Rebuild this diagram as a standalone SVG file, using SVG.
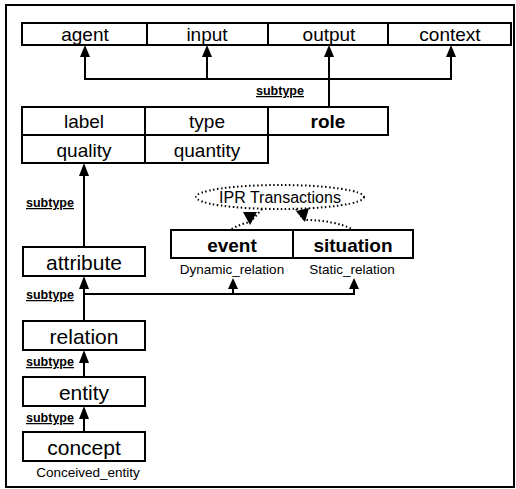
<svg xmlns="http://www.w3.org/2000/svg" width="516" height="489" viewBox="0 0 516 489">
<style>
.box{fill:#fff;stroke:#000;stroke-width:2}
.t{font-family:"Liberation Sans",Arial,sans-serif;font-size:19px;text-anchor:middle;fill:#000}
.L{font-size:21px}
.b{font-weight:bold}
.s{font-family:"Liberation Sans",Arial,sans-serif;font-size:12.5px;font-weight:bold;text-decoration:underline;fill:#000}
.c{font-family:"Liberation Sans",Arial,sans-serif;font-size:13.5px;text-anchor:middle;fill:#000}
.ln{fill:none;stroke:#000;stroke-width:2}
.dot{fill:none;stroke:#000;stroke-width:2;stroke-dasharray:1.5 2.5}
.ah{fill:#000}
</style>
<rect x="6" y="5" width="508" height="482" fill="#fff" stroke="#000" stroke-width="2"/>
<g id="connectors">
<path class="ln" d="M85 56 V79 H451 V56 M207 79 V56 M329 107 V56"/>
<polygon class="ah" points="85,45 80,57 90,57"/>
<polygon class="ah" points="207,45 202,57 212,57"/>
<polygon class="ah" points="329,45 324,57 334,57"/>
<polygon class="ah" points="451,45 446,57 456,57"/>
<text class="s" x="256" y="95">subtype</text>
<path class="ln" d="M84 247 V175"/>
<polygon class="ah" points="84,163 79,176 89,176"/>
<text class="s" x="26" y="207">subtype</text>
<path class="ln" d="M84 321 V287 M84 294 H354 V288 M233 294 V288"/>
<polygon class="ah" points="84,276 79,289 89,289"/>
<polygon class="ah" points="233,278 228,289 238,289"/>
<polygon class="ah" points="354,278 349,289 359,289"/>
<text class="s" x="26" y="299">subtype</text>
<path class="ln" d="M84 377 V361"/>
<polygon class="ah" points="84,350 79,363 89,363"/>
<text class="s" x="26" y="366">subtype</text>
<path class="ln" d="M84 432 V417"/>
<polygon class="ah" points="84,406 79,419 89,419"/>
<text class="s" x="26" y="422">subtype</text>
<path class="dot" d="M262 209 Q256 216 250 222 Q240 224 230 230"/>
<polygon class="ah" points="250,225 243,212 257,212"/>
<path class="dot" d="M296 209 Q300 215 304 220 Q335 220 354 230"/>
<polygon class="ah" points="305,222 296,211 309,208"/>
</g>
<g id="ipr">
<ellipse cx="280" cy="197" rx="84" ry="12" class="dot"/>
<text class="c" x="280" y="203" style="font-size:16px">IPR Transactions</text>
</g>
<g id="agent"><rect class="box" x="22" y="23" width="125" height="22"/><text class="t" x="85" y="41">agent</text></g>
<g id="input"><rect class="box" x="147" y="23" width="121" height="22"/><text class="t" x="207" y="41">input</text></g>
<g id="output"><rect class="box" x="268" y="23" width="120" height="22"/><text class="t" x="329" y="41">output</text></g>
<g id="context"><rect class="box" x="388" y="23" width="123" height="22"/><text class="t" x="450" y="41">context</text></g>
<g id="label"><rect class="box" x="22" y="107" width="123" height="28"/><text class="t" x="84" y="128">label</text></g>
<g id="type"><rect class="box" x="145" y="107" width="123" height="28"/><text class="t" x="207" y="128">type</text></g>
<g id="role"><rect class="box" x="268" y="107" width="120" height="28"/><text class="t b" x="328" y="128">role</text></g>
<g id="quality"><rect class="box" x="22" y="135" width="123" height="28"/><text class="t" x="84" y="157">quality</text></g>
<g id="quantity"><rect class="box" x="145" y="135" width="123" height="28"/><text class="t" x="207" y="157">quantity</text></g>
<g id="attribute"><rect class="box" x="23" y="247" width="122" height="29"/><text class="t L" x="84" y="270">attribute</text></g>
<g id="event"><rect class="box" x="171" y="230" width="122" height="28"/><text class="t b" x="232" y="252">event</text><text class="c" x="232" y="274">Dynamic_relation</text></g>
<g id="situation"><rect class="box" x="293" y="230" width="120" height="28"/><text class="t b" x="353" y="252">situation</text><text class="c" x="352" y="274">Static_relation</text></g>
<g id="relation"><rect class="box" x="23" y="321" width="122" height="29"/><text class="t L" x="84" y="344">relation</text></g>
<g id="entity"><rect class="box" x="23" y="377" width="122" height="29"/><text class="t L" x="84" y="400">entity</text></g>
<g id="concept"><rect class="box" x="23" y="432" width="122" height="29"/><text class="t L" x="84" y="455">concept</text><text class="c" x="88" y="477">Conceived_entity</text></g>
</svg>
